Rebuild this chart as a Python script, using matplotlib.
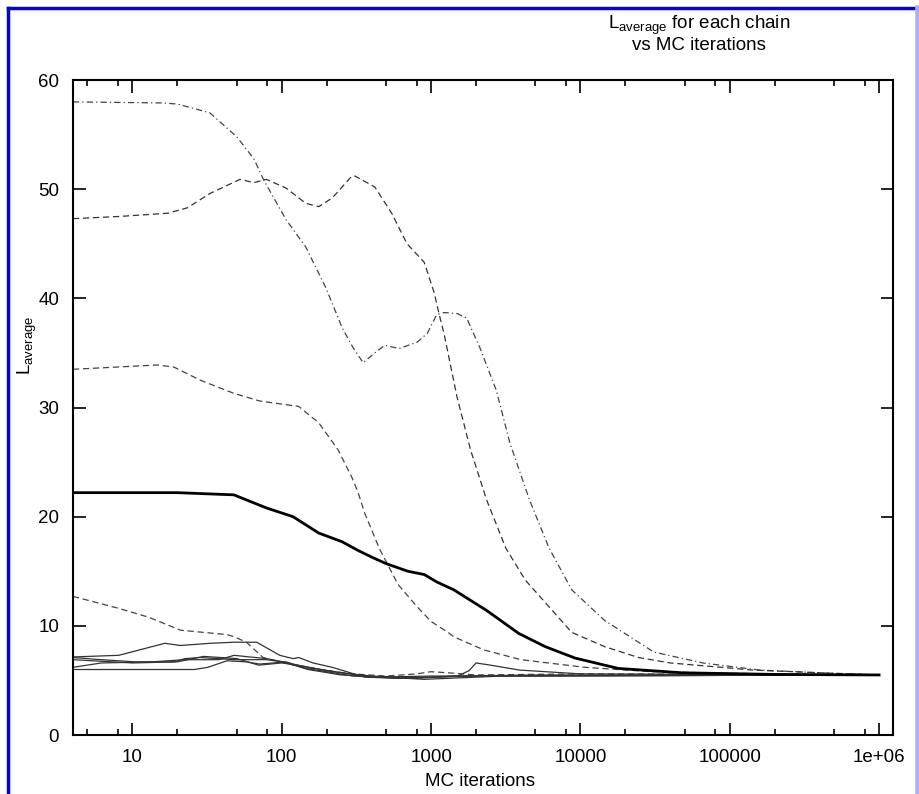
import matplotlib
matplotlib.use("Agg")
import matplotlib.pyplot as plt
from matplotlib.lines import Line2D
from matplotlib.ticker import FixedLocator, FixedFormatter, NullFormatter

plt.rcParams['font.family'] = ['Liberation Sans Narrow', 'Liberation Sans', 'DejaVu Sans']
plt.rcParams['mathtext.default'] = 'regular'

# chains (MC iterations, L_average)
a_x = [4, 16, 20, 33, 50, 65, 76, 107, 145, 197, 254, 300, 351, 420, 490, 612, 810, 944, 1090,
       1220, 1500, 1730, 2120, 2730, 3380, 4570, 6180, 8750, 14500, 31000, 66000, 157000, 400000, 1e6]
a_y = [58.0, 57.9, 57.8, 57.0, 54.8, 52.8, 50.8, 47.2, 44.7, 41.0, 37.3, 35.5, 34.1, 35.0, 35.7, 35.4,
       36.0, 36.8, 38.5, 38.7, 38.6, 38.2, 35.5, 31.6, 26.7, 21.5, 17.1, 13.3, 10.5, 7.6, 6.6, 5.95, 5.7, 5.5]

b_x = [4, 8.1, 17.3, 23.4, 33, 52.5, 65, 79, 107, 145, 177, 218, 295, 310, 420, 545, 690, 900, 1050,
       1130, 1220, 1490, 1840, 2360, 3170, 4270, 8750, 14500, 24500, 40000, 143000, 400000, 1e6]
b_y = [47.3, 47.5, 47.8, 48.3, 49.6, 50.9, 50.6, 50.9, 50.1, 48.7, 48.4, 49.2, 51.2, 51.2, 50.2, 47.8,
       45.0, 43.3, 40.5, 38.6, 36.8, 31.0, 26.1, 21.5, 17.1, 14.2, 9.4, 8.1, 7.1, 6.6, 5.95, 5.7, 5.5]

c_x = [4, 14.8, 19, 28.5, 47.8, 71, 130, 177, 239, 295, 325, 360, 400, 450, 600, 800, 1000, 1300,
       1420, 2250, 4000, 10700, 30000, 100000, 1e6]
c_y = [33.5, 33.9, 33.7, 32.5, 31.3, 30.6, 30.1, 28.6, 26.1, 23.6, 22.2, 20.3, 18.8, 17.1, 13.8, 11.8,
       10.4, 9.4, 9.0, 7.8, 6.9, 6.2, 5.8, 5.65, 5.5]

d_x = [4, 20, 47.8, 79, 119, 177, 254, 325, 400, 500, 700, 900, 1100, 1420, 2360, 3870, 5800, 9200,
       17900, 48000, 200000, 1e6]
d_y = [22.2, 22.2, 22.0, 20.8, 20.0, 18.5, 17.7, 16.9, 16.3, 15.7, 15.0, 14.7, 14.0, 13.3, 11.4, 9.3,
       8.1, 7.05, 6.1, 5.7, 5.55, 5.5]

e_x = [4, 8.1, 12.8, 21, 43, 48, 58, 75, 97, 130, 200, 300, 500, 800, 1000, 1300, 2000, 10000, 1e6]
e_y = [12.7, 11.6, 10.8, 9.6, 9.2, 9.0, 8.5, 7.1, 6.7, 6.3, 5.9, 5.6, 5.4, 5.6, 5.8, 5.7, 5.5, 5.6, 5.5]

f_x = [4, 8.1, 16.5, 21, 33, 48, 68, 97, 119, 130, 162, 218, 360, 600, 1000, 1500, 1800, 2000,
       2500, 3900, 10000, 1e6]
f_y = [7.15, 7.3, 8.4, 8.2, 8.4, 8.5, 8.5, 7.3, 7.0, 7.1, 6.6, 6.2, 5.3, 5.2, 5.3, 5.4, 5.9, 6.6,
       6.4, 5.95, 5.6, 5.5]

g_x = [4, 6.2, 10.5, 19, 22.5, 28.5, 48, 79, 102, 150, 250, 400, 800, 1500, 5000, 1e6]
g_y = [7.1, 6.9, 6.7, 6.7, 7.0, 7.1, 6.9, 6.9, 6.7, 6.2, 5.7, 5.4, 5.2, 5.4, 5.5, 5.5]

h_x = [4, 6.2, 13.4, 22.5, 38, 48, 61, 79, 102, 150, 250, 500, 900, 3000, 1e6]
h_y = [6.2, 6.6, 6.7, 6.9, 6.9, 7.3, 7.15, 7.0, 6.7, 6.0, 5.5, 5.3, 5.1, 5.4, 5.5]

i_x = [4, 26, 32, 43, 58, 71, 88, 107, 145, 200, 300, 600, 1000, 2000, 1e6]
i_y = [6.0, 6.0, 6.2, 6.8, 6.7, 6.5, 6.6, 6.7, 6.1, 5.8, 5.4, 5.2, 5.3, 5.4, 5.5]

j_x = [4, 10, 20, 30, 50, 70, 100, 140, 200, 400, 1000, 1e6]
j_y = [6.9, 6.6, 6.7, 7.2, 7.0, 6.4, 6.6, 6.3, 5.9, 5.3, 5.4, 5.5]

xtick_vals = [10, 100, 1000, 10000, 100000, 1e6]
xtick_labels = ['10', '100', '1000', '10000', '100000', '1e+06']
xminor_vals = [m * 10 ** k for k in range(0, 7) for m in (2, 5, 8)]
ytick_vals = [0, 10, 20, 30, 40, 50, 60]

fig = plt.figure(figsize=(9.2, 7.94), dpi=100)
ax = fig.add_axes([0.0793, 0.0743, 0.8914, 0.8249])

dash = (0, (5, 3))
ax.plot(a_x, a_y, color='#444444', lw=0.9, ls=(0, (5, 2.5, 1, 2.5)))
ax.plot(b_x, b_y, color='#333333', lw=0.9, ls=dash)
ax.plot(c_x, c_y, color='#444444', lw=0.9, ls=dash)
ax.plot(e_x, e_y, color='#444444', lw=0.9, ls=dash)
for xs, ys in [(f_x, f_y), (g_x, g_y), (h_x, h_y), (i_x, i_y), (j_x, j_y)]:
    ax.plot(xs, ys, color='#333333', lw=0.9)
ax.plot(d_x, d_y, color='black', lw=2.0)

ax.set_xscale('log')
ax.set_xlim(4, 1.24e6)
ax.set_ylim(0, 60)
ax.xaxis.set_major_locator(FixedLocator(xtick_vals))
ax.xaxis.set_major_formatter(FixedFormatter(xtick_labels))
ax.xaxis.set_minor_locator(FixedLocator(xminor_vals))
ax.xaxis.set_minor_formatter(NullFormatter())
ax.yaxis.set_major_locator(FixedLocator(ytick_vals))

ax.tick_params(which='both', direction='in', top=True, right=True, width=1.2,
               labelsize=13.5, colors='black')
ax.tick_params(which='major', length=9)
ax.tick_params(which='minor', length=4)
ax.tick_params(axis='x', pad=10)
ax.tick_params(axis='y', pad=10)
for s in ax.spines.values():
    s.set_linewidth(1.5)

ax.set_xlabel('MC iterations', fontsize=13.5)
ax.xaxis.set_label_coords(0.496, -0.058)
ax.set_ylabel(r'$L_{average}$', fontsize=13.5)
ax.yaxis.set_label_coords(-0.042, 0.595)

fig.text(0.76, 0.982, '$L_{average}$ for each chain\nvs MC iterations', ha='center', va='top',
         multialignment='center', fontsize=13.5, linespacing=1.0)

# blue frame round the picture
fig.add_artist(Line2D([0.009, 0.009], [0, 0.99], color='#0000ee', lw=2.5, transform=fig.transFigure))
fig.add_artist(Line2D([0.009, 1.0], [0.99, 0.99], color='#0000ee', lw=2.5, transform=fig.transFigure))
fig.add_artist(Line2D([0.998, 0.998], [0, 0.99], color='#aab0ff', lw=4, transform=fig.transFigure))

fig.savefig('out.png', dpi=100)
